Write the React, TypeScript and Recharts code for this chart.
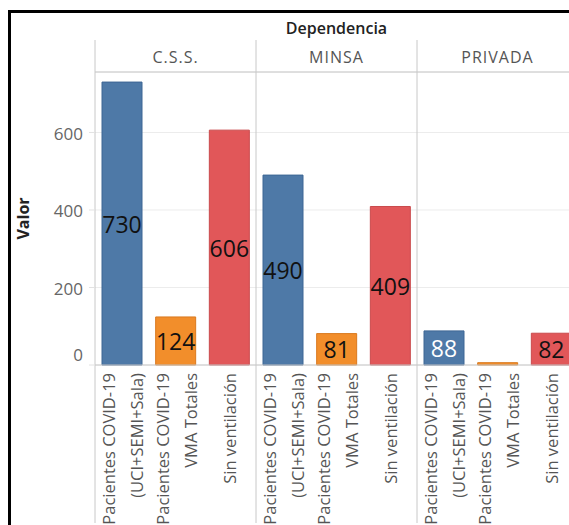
import {
  Bar,
  BarChart,
  CartesianGrid,
  Cell,
  Label,
  LabelList,
  ReferenceLine,
  XAxis,
  YAxis,
} from "recharts";

const PANELS = ["C.S.S.", "MINSA", "PRIVADA"];
const MEASURE_LINES = [
  ["Pacientes COVID-19", "(UCI+SEMI+Sala)"],
  ["Pacientes COVID-19", "VMA Totales"],
  ["Sin ventilación"],
];
const CSS_VALUES = [730, 124, 606];
const MINSA_VALUES = [490, 81, 409];
const PRIVADA_VALUES = [88, 6, 82];
const Y_TICKS = [0, 200, 400, 600];
const Y_MAX = 756;

const COLORS = ["#4e79a7", "#f28e2b", "#e15759"];
const STROKES = ["#3d6694", "#d97a1f", "#c94a4c"];
const LINE = "#c8c8c8";

const data = [CSS_VALUES, MINSA_VALUES, PRIVADA_VALUES].flatMap((vals, p) =>
  vals.map((v, m) => ({ pos: p * 3 + m, panel: PANELS[p], measure: m, valor: v }))
);
const catTicks = data.map((d) => d.pos);
const panelTicks = PANELS.map((_, p) => p * 3 + 1);
const panelEdges = PANELS.map((_, p) => p * 3 - 0.5);

function MeasureTick({ x, y, payload }: any) {
  const lines = MEASURE_LINES[payload.value % 3];
  const offsets = lines.length === 2 ? [-6.5, 21] : [7];
  return (
    <g transform={`translate(${x},${y}) rotate(-90)`}>
      {lines.map((t, i) => (
        <text key={i} x={0} y={offsets[i]} textAnchor="end" fill="#555" fontSize={16.5}>
          {t}
        </text>
      ))}
    </g>
  );
}

function PanelTick({ x, y, payload }: any) {
  return (
    <text x={x} y={y - 1} textAnchor="middle" fill="#555" fontSize={16} letterSpacing={1}>
      {PANELS[(payload.value - 1) / 3]}
    </text>
  );
}

function ValueTick({ x, y, payload }: any) {
  const dy = payload.value === 0 ? -11 : 1;
  return (
    <text x={x} y={y + dy} textAnchor="end" dominantBaseline="central" fill="#666" fontSize={17}>
      {payload.value}
    </text>
  );
}

function ValorLabel({ viewBox }: any) {
  const cx = viewBox.x + 23;
  const cy = viewBox.y + viewBox.height / 2;
  return (
    <text
      x={cx}
      y={cy}
      transform={`rotate(-90 ${cx} ${cy})`}
      textAnchor="middle"
      dominantBaseline="central"
      fontSize={16}
      fontWeight={700}
      fill="#222"
    >
      Valor
    </text>
  );
}

function BarValue({ x, y, width, height, value, index }: any) {
  if (value < 20) return null;
  const d = data[index];
  const light = d.panel === "PRIVADA" && d.measure === 0;
  return (
    <text
      x={x + width / 2}
      y={y + height / 2}
      textAnchor="middle"
      dominantBaseline="central"
      fontSize={23}
      fill={light ? "#fff" : "#111"}
    >
      {value}
    </text>
  );
}

function Separator(p: any) {
  const top = Math.min(p.y1, p.y2);
  const bottom = Math.max(p.y1, p.y2);
  return <line x1={p.x1} x2={p.x2} y1={top - 32} y2={bottom + 158} stroke={LINE} strokeWidth={1} />;
}

export default function App() {
  return (
    <div
      style={{
        position: "absolute",
        left: 0,
        top: 0,
        width: 569,
        height: 525,
        overflow: "hidden",
        background: "#fff",
        fontFamily: "'Open Sans', sans-serif",
      }}
    >
      <div
        style={{
          position: "absolute",
          left: 8,
          top: 10,
          width: 700,
          height: 700,
          borderLeft: "3px solid #000",
          borderTop: "3px solid #000",
        }}
      />
      <div
        style={{
          position: "absolute",
          left: 95,
          width: 483,
          top: 17,
          textAlign: "center",
          fontSize: 16,
          fontWeight: 600,
          color: "#222",
        }}
      >
        Dependencia
      </div>
      <div style={{ position: "absolute", left: 0, top: 0 }}>
        <BarChart
          width={600}
          height={525}
          data={data}
          margin={{ top: 40, right: 22, bottom: 0, left: 0 }}
        >
          <CartesianGrid xAxisId="cat" vertical={false} stroke="#ececec" />
          <XAxis
            xAxisId="panel"
            orientation="top"
            type="number"
            dataKey="pos"
            domain={[-0.5, 8.5]}
            ticks={panelTicks}
            interval={0}
            height={32}
            tickLine={false}
            axisLine={{ stroke: LINE }}
            tick={<PanelTick />}
          />
          <XAxis
            xAxisId="cat"
            type="number"
            dataKey="pos"
            domain={[-0.5, 8.5]}
            ticks={catTicks}
            interval={0}
            height={160}
            tickLine={false}
            axisLine={{ stroke: LINE }}
            tick={<MeasureTick />}
          />
          <YAxis
            width={95}
            domain={[0, Y_MAX]}
            ticks={Y_TICKS}
            axisLine={false}
            tickLine={{ stroke: "#e2e2e2" }}
            tickSize={6}
            tickMargin={6}
            tick={<ValueTick />}
          >
            <Label content={<ValorLabel />} />
          </YAxis>
          {panelEdges.map((e) => (
            <ReferenceLine key={e} xAxisId="cat" x={e} stroke={LINE} shape={Separator} />
          ))}
          <Bar xAxisId="cat" dataKey="valor" barSize={40} isAnimationActive={false}>
            {data.map((d) => (
              <Cell key={d.pos} fill={COLORS[d.measure]} stroke={STROKES[d.measure]} strokeWidth={1} />
            ))}
            <LabelList dataKey="valor" content={<BarValue />} />
          </Bar>
        </BarChart>
      </div>
    </div>
  );
}
